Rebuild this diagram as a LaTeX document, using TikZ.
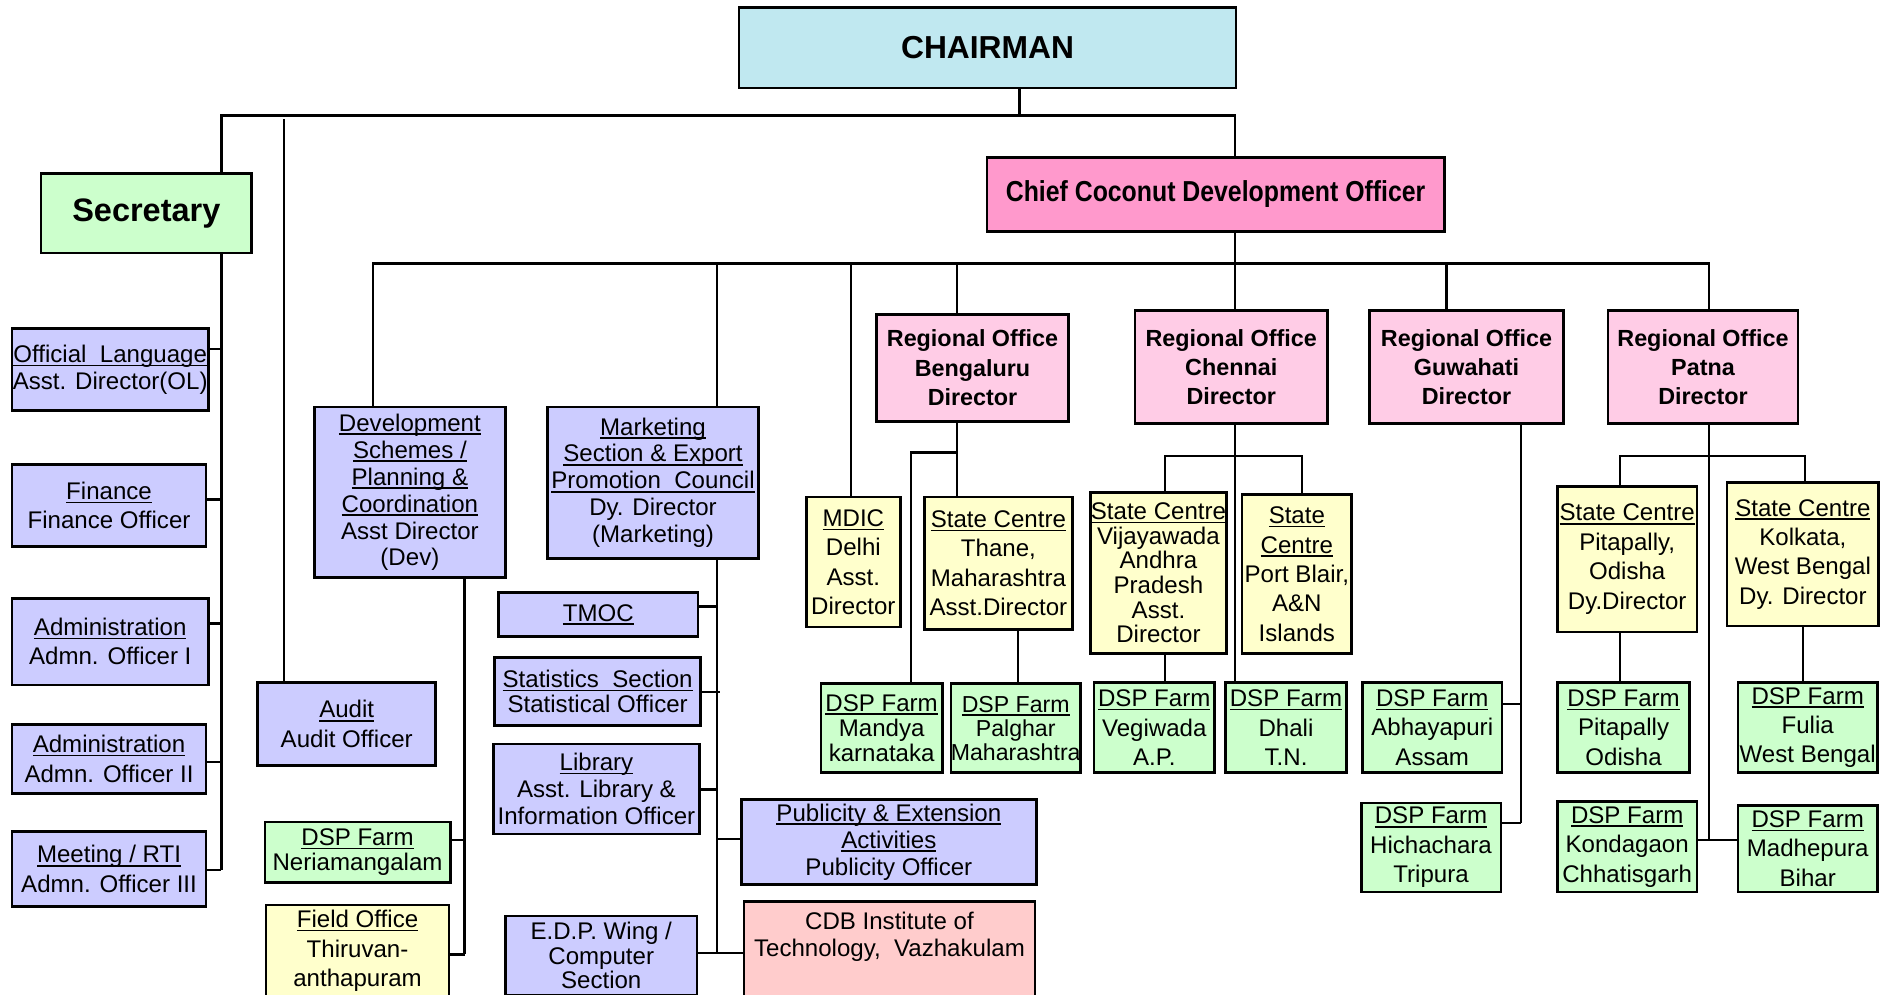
\documentclass[tikz,border=0pt]{standalone}
\usepackage{fontspec}
\setmainfont{Liberation Sans}
\usepackage{graphicx}
\definecolor{chaircol}{HTML}{C0E8F0}
\definecolor{seccol}{HTML}{CCFFCC}
\definecolor{ccdocol}{HTML}{FF99CC}
\definecolor{rocol}{HTML}{FFCCE6}
\definecolor{admcol}{HTML}{CCCCFF}
\definecolor{farmcol}{HTML}{CCFFCC}
\definecolor{cencol}{HTML}{FFFFCC}
\definecolor{cdbcol}{HTML}{FFCCCC}
\newsavebox{\ulbox}
\newcommand{\uln}[1]{\leavevmode\sbox{\ulbox}{#1}%
  \rlap{\rule[-1.5pt]{\wd\ulbox}{0.6pt}}\usebox{\ulbox}}
\tikzset{
  blk/.style   = {draw, line width=1.1pt, inner sep=0pt, align=center,
                  anchor=north west, font=\fontsize{10}{12.2}\selectfont},
  wh/.style 2 args = {minimum width=#1*0.5pt, minimum height=#2*0.5pt},
  adm/.style   = {blk, fill=admcol},
  farm/.style  = {blk, fill=farmcol},
  cen/.style   = {blk, fill=cencol},
  ro/.style    = {blk, fill=rocol, font=\fontsize{9.7}{12.2}\selectfont\bfseries},
  tight/.style = {font=\fontsize{10}{10.2}\selectfont},
  snug/.style  = {font=\fontsize{10}{11.2}\selectfont},
  ln/.style    = {line width=1pt}
}

\begin{document}
\begin{tikzpicture}[x=0.5pt, y=-0.5pt]
\useasboundingbox (0,0) rectangle (1568,826);
\clip (0,0) rectangle (1568,826);

% heads
\node[blk, fill=chaircol, wh={413}{67}, font=\fontsize{13.2}{15}\selectfont\bfseries]
  (chair) at (613,5) {CHAIRMAN};
\node[blk, fill=seccol, wh={175}{66}, font=\fontsize{13.5}{15}\selectfont\bfseries]
  (sec) at (33,143) {Secretary};
\node[blk, fill=ccdocol, wh={380}{61}, font=\fontsize{12}{14}\selectfont\bfseries]
  (ccdo) at (819,130) {\scalebox{0.86}[1]{Chief Coconut Development Officer}};

% secretary side
\node[adm, wh={163}{68}, snug] (ol) at (9,272) {\uln{Official\ \ Language}\\Asst. Director(OL)};
\node[adm, wh={161}{68}] (fin) at (9,385) {\uln{Finance}\\Finance Officer};
\node[adm, wh={163}{72}] (adm1) at (9,496) {\uln{Administration}\\Admn. Officer I};
\node[adm, wh={161}{57}] (adm2) at (9,601) {\uln{Administration}\\Admn. Officer II};
\node[adm, wh={161}{62}] (rti) at (9,690) {\uln{Meeting / RTI}\\Admn. Officer III};
\node[adm, wh={148}{69}] (audit) at (213,566) {\uln{Audit}\\Audit Officer};

% development
\node[adm, wh={159}{142}, snug] (dev) at (260,337)
  {\uln{Development}\\\uln{Schemes /}\\\uln{Planning \&}\\\uln{Coordination}\\Asst Director\\(Dev)};
\node[farm, wh={154}{50}, tight] (ner) at (219,682) {\uln{DSP Farm}\\Neriamangalam};
\node[cen, wh={152}{76}] (fld) at (220,751) {\uln{Field Office}\\Thiruvan-\\anthapuram};

% marketing
\node[adm, wh={175}{126}, snug] (mkt) at (454,337)
  {\uln{Marketing}\\\uln{Section \& Export}\\\uln{Promotion\ \ Council}\\Dy. Director\\(Marketing)};
\node[adm, wh={166}{37}] (tmoc) at (413,491) {\uln{TMOC}};
\node[adm, wh={171}{57}, tight] (stat) at (410,545) {\uln{Statistics\ \ Section}\\Statistical Officer};
\node[adm, wh={171}{75}, snug] (lib) at (409,617) {\uln{Library}\\Asst. Library \&\\Information Officer};
\node[adm, wh={245}{71}, snug] (pub) at (615,663)
  {\uln{Publicity \& Extension}\\\uln{Activities}\\Publicity Officer};
\node[adm, wh={159}{66}, tight] (edp) at (419,760) {E.D.P. Wing /\\Computer\\Section};
\node[blk, fill=cdbcol, wh={242}{100}, snug] (cdb) at (617,748)
  {CDB Institute of\\Technology,\ \ Vazhakulam\\~\\~};

% Bengaluru
\node[cen, wh={78}{108}] (mdic) at (669,412) {\uln{MDIC}\\Delhi\\Asst.\\Director};
\node[ro, wh={160}{89}] (rob) at (727,260) {Regional Office\\Bengaluru\\Director};
\node[cen, wh={123}{110}] (thane) at (767,412) {\uln{State Centre}\\Thane,\\Maharashtra\\Asst.Director};
\node[farm, wh={101}{74}, font=\fontsize{10}{10.5}\selectfont] (mandya) at (681,567)
  {\uln{DSP Farm}\\Mandya\\karnataka};
\node[farm, wh={107}{74}, font=\fontsize{9.6}{10}\selectfont] (palghar) at (789,567)
  {\uln{DSP Farm}\\Palghar\\Maharashtra};

% Chennai
\node[ro, wh={160}{94}] (roc) at (942,257) {Regional Office\\Chennai\\Director};
\node[cen, wh={113}{134}, tight] (vij) at (905,408)
  {\uln{State Centre}\\Vijayawada\\Andhra\\Pradesh\\Asst.\\Director};
\node[cen, wh={91}{132}] (blair) at (1031,410) {\uln{State}\\\uln{Centre}\\Port Blair,\\A\&N\\Islands};
\node[farm, wh={100}{75}] (vegi) at (908,566) {\uln{DSP Farm}\\Vegiwada\\A.P.};
\node[farm, wh={101}{75}] (dhali) at (1017,566) {\uln{DSP Farm}\\Dhali\\T.N.};

% Guwahati
\node[ro, wh={161}{94}] (rog) at (1137,257) {Regional Office\\Guwahati\\Director};
\node[farm, wh={116}{75}] (abha) at (1131,566) {\uln{DSP Farm}\\Abhayapuri\\Assam};
\node[farm, wh={116}{74}] (hicha) at (1130,666) {\uln{DSP Farm}\\Hichachara\\Tripura};

% Patna
\node[ro, wh={158}{94}] (rop) at (1335,257) {Regional Office\\Patna\\Director};
\node[cen, wh={116}{121}] (scpit) at (1293,403) {\uln{State Centre}\\Pitapally,\\Odisha\\Dy.Director};
\node[cen, wh={126}{119}] (sckol) at (1434,400) {\uln{State Centre}\\Kolkata,\\West Bengal\\Dy. Director};
\node[farm, wh={110}{75}] (dsppit) at (1293,566) {\uln{DSP Farm}\\Pitapally\\Odisha};
\node[farm, wh={116}{75}] (fulia) at (1443,566) {\uln{DSP Farm}\\Fulia\\West Bengal};
\node[farm, wh={116}{75}] (konda) at (1293,665) {\uln{DSP Farm}\\Kondagaon\\Chhatisgarh};
\node[farm, wh={116}{72}] (madhe) at (1443,668) {\uln{DSP Farm}\\Madhepura\\Bihar};

% top level lines
\draw[ln] (chair.south -| 847,0) -- (847,96);
\draw[ln] (sec.north -| 184,0) -- (184,96) -- (1026,96) -- (ccdo.north -| 1026,0);
\draw[ln] (236,99) -- (audit.north -| 236,0);
\draw[ln] (sec.south -| 184,0) -- (184,723);
\draw[ln] (ol.east |- 0,290) -- (184,290);
\draw[ln] (fin.east |- 0,415) -- (184,415);
\draw[ln] (adm1.east |- 0,518) -- (184,518);
\draw[ln] (adm2.east |- 0,633) -- (184,633);
\draw[ln] (rti.east |- 0,723) -- (184,723);

% CCDO bus
\draw[ln] (ccdo.south -| 1026,0) -- (1026,219);
\draw[ln] (dev.north -| 310,0) -- (310,219) -- (1420,219) -- (rop.north -| 1420,0);
\draw[ln] (596,219) -- (mkt.north -| 596,0);
\draw[ln] (707,219) -- (mdic.north -| 707,0);
\draw[ln] (795,219) -- (rob.north -| 795,0);
\draw[ln] (1026,219) -- (roc.north -| 1026,0);
\draw[ln] (1202,219) -- (rog.north -| 1202,0);

% development and marketing spines
\draw[ln] (dev.south -| 386,0) -- (386,793);
\draw[ln] (ner.east |- 0,698) -- (386,698);
\draw[ln] (fld.east |- 0,793) -- (386,793);
\draw[ln] (mkt.south -| 596,0) -- (596,792);
\draw[ln] (tmoc.east |- 0,504) -- (596,504);
\draw[ln] (stat.east |- 0,575) -- (598,575);
\draw[ln] (lib.east |- 0,656) -- (596,656);
\draw[ln] (pub.west |- 0,697) -- (596,697);
\draw[ln] (edp.east |- 0,792) -- (cdb.west |- 0,792);

% regional offices
\draw[ln] (rob.south -| 795,0) -- (795,376) -- (757,376) -- (mandya.north -| 757,0);
\draw[ln] (795,376) -- (thane.north -| 795,0);
\draw[ln] (thane.south -| 846,0) -- (palghar.north -| 846,0);

\draw[ln] (roc.south -| 1026,0) -- (dhali.north -| 1026,0);
\draw[ln] (vij.north -| 968,0) -- (968,379) -- (1082,379) -- (blair.north -| 1082,0);
\draw[ln] (vij.south -| 968,0) -- (vegi.north -| 968,0);

\draw[ln] (rog.south -| 1264,0) -- (1264,684);
\draw[ln] (abha.east |- 0,585) -- (1264,585);
\draw[ln] (hicha.east |- 0,684) -- (1264,684);

\draw[ln] (rop.south -| 1420,0) -- (1420,698);
\draw[ln] (scpit.north -| 1346,0) -- (1346,379) -- (1500,379) -- (sckol.north -| 1500,0);
\draw[ln] (scpit.south -| 1346,0) -- (dsppit.north -| 1346,0);
\draw[ln] (sckol.south -| 1498,0) -- (fulia.north -| 1498,0);
\draw[ln] (konda.east |- 0,698) -- (madhe.west |- 0,698);
\end{tikzpicture}
\end{document}
